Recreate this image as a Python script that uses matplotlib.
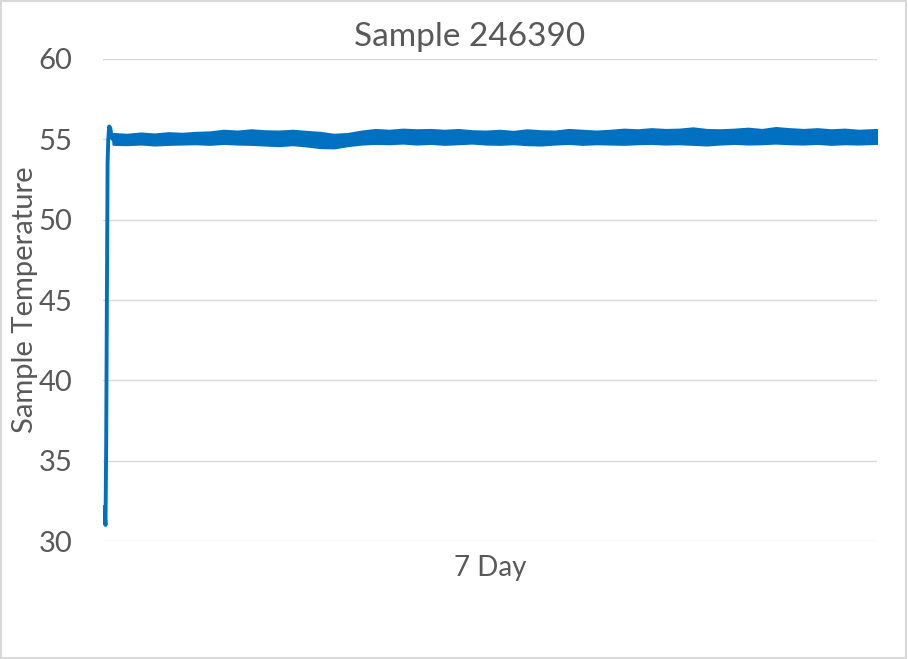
import matplotlib.pyplot as plt
from matplotlib.patches import Rectangle

# start-up ramp (hours, deg)
ramp_hours = [0.0, 0.15, 0.35, 0.5, 0.65, 0.8, 0.95, 1.15, 1.4, 1.7, 2.0]
ramp_temp = [32.1, 31.8, 31.0, 36.0, 45.0, 53.5, 55.0, 55.8, 55.7, 55.1, 55.0]

# steady band, sampled every 3 hours: upper / lower edge of the noisy trace
band_hours = [2, 5, 8, 11, 14, 17, 20, 23, 26, 29, 32, 35, 38, 41, 44, 47, 50,
              53, 56, 59, 62, 65, 68, 71, 74, 77, 80, 83, 86, 89, 92, 95, 98,
              101, 104, 107, 110, 113, 116, 119, 122, 125, 128, 131, 134, 137,
              140, 143, 146, 149, 152, 155, 158, 161, 164, 168]
band_hi = [55.35, 55.3, 55.38, 55.32, 55.4, 55.36, 55.42, 55.45, 55.55, 55.5,
           55.58, 55.52, 55.5, 55.55, 55.48, 55.42, 55.3, 55.35, 55.5, 55.6,
           55.55, 55.62, 55.58, 55.6, 55.55, 55.6, 55.52, 55.5, 55.55, 55.48,
           55.58, 55.52, 55.5, 55.6, 55.55, 55.5, 55.55, 55.62, 55.58, 55.65,
           55.6, 55.62, 55.7, 55.6, 55.58, 55.62, 55.68, 55.6, 55.72, 55.65,
           55.6, 55.65, 55.58, 55.62, 55.55, 55.6]
band_lo = [54.7, 54.68, 54.72, 54.66, 54.7, 54.72, 54.74, 54.7, 54.76, 54.72,
           54.7, 54.66, 54.62, 54.68, 54.6, 54.5, 54.48, 54.62, 54.72, 54.76,
           54.74, 54.78, 54.72, 54.76, 54.7, 54.74, 54.78, 54.72, 54.7, 54.74,
           54.68, 54.66, 54.72, 54.76, 54.7, 54.74, 54.72, 54.7, 54.74, 54.76,
           54.72, 54.74, 54.7, 54.66, 54.72, 54.76, 54.72, 54.74, 54.78, 54.74,
           54.72, 54.76, 54.7, 54.74, 54.72, 54.76]

blue = '#0070C0'
text_color = '#595959'
grid_color = '#D9D9D9'
font = 'Lato'

fig = plt.figure(figsize=(9.08, 6.59), dpi=100)
ax = fig.add_axes([0.1134, 0.179, 0.8524, 0.7315])

ax.plot(ramp_hours, ramp_temp, color=blue, linewidth=2.8, solid_joinstyle='round')
ax.fill_between(band_hours, band_lo, band_hi, color=blue, linewidth=1.8, edgecolor=blue)

ax.set_ylim(30, 60)
ax.set_xlim(-0.2, 168)
ax.set_yticks([30, 35, 40, 45, 50, 55, 60])
ax.set_xticks([])
ax.grid(axis='y', color=grid_color, linewidth=1)
ax.set_axisbelow(True)
for s in ax.spines.values():
    s.set_visible(False)
ax.tick_params(axis='y', length=0, pad=22, labelsize=21, labelcolor=text_color)
for lbl in ax.get_yticklabels():
    lbl.set_family(font)

fig.text(0.517, 0.93, 'Sample 246390', fontsize=24, color=text_color, family=font,
         ha='center', va='baseline')
ax.set_ylabel('Sample Temperature', fontsize=21, color=text_color, family=font, labelpad=0)
ax.set_xlabel('7 Day', fontsize=20, color=text_color, family=font, labelpad=10)

fig.patches.append(Rectangle((0.001, 0.001), 0.997, 0.997, transform=fig.transFigure,
                             fill=False, edgecolor=grid_color, linewidth=1.5))

fig.savefig('out.png', dpi=100)
